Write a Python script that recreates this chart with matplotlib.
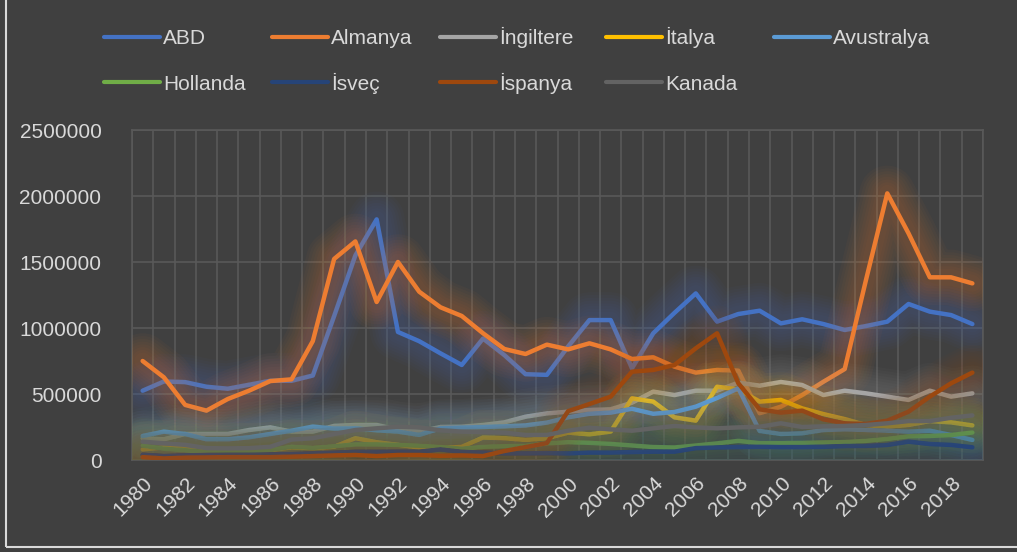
import numpy as np
import matplotlib
matplotlib.use("Agg")
import matplotlib.pyplot as plt
from matplotlib.lines import Line2D
from matplotlib.patches import Rectangle

# values in thousands, 1980-2019
years = list(range(1980, 2020))
tick_years = [str(y) for y in range(1980, 2020, 2)]

abd = [525, 595, 590, 555, 540, 570, 600, 600, 640, 1090, 1550, 1823, 970, 900, 808, 720,
       920, 795, 650, 645, 860, 1060, 1060, 695, 960, 1115, 1262, 1048, 1106, 1131, 1035,
       1066, 1030, 985, 1015, 1048, 1182, 1124, 1098, 1030]
almanya = [750, 626, 417, 374, 462, 525, 598, 611, 901, 1523, 1656, 1197, 1500, 1275, 1157,
           1091, 960, 841, 803, 874, 838, 884, 838, 765, 778, 707, 662, 682, 677, 354, 404,
           492, 593, 689, 1364, 2020, 1717, 1384, 1384, 1338]
ingiltere = [164, 157, 197, 197, 197, 227, 247, 215, 215, 258, 265, 265, 230, 215, 250, 252,
             265, 285, 328, 353, 366, 379, 384, 434, 518, 492, 525, 525, 586, 563, 591, 568,
             492, 525, 505, 480, 455, 525, 480, 505]
italya = [80, 95, 90, 75, 70, 70, 75, 95, 90, 100, 165, 135, 115, 95, 90, 100, 170, 165, 152,
          164, 207, 194, 215, 467, 442, 323, 298, 555, 535, 442, 455, 391, 348, 310, 265, 252,
          265, 295, 285, 262]
avustralya = [182, 215, 197, 157, 157, 172, 197, 222, 253, 238, 240, 225, 215, 190, 240, 245,
              250, 255, 262, 283, 323, 350, 359, 388, 350, 364, 404, 470, 543, 220, 197, 202,
              227, 232, 227, 222, 215, 222, 189, 152]
hollanda = [110, 85, 73, 60, 60, 62, 76, 101, 92, 104, 118, 118, 114, 108, 98, 85, 100, 104,
            108, 126, 135, 130, 122, 110, 98, 95, 110, 126, 145, 128, 128, 130, 133, 136, 145,
            160, 180, 182, 189, 208]
isvec = [40, 30, 35, 38, 40, 40, 42, 45, 50, 55, 62, 62, 63, 63, 80, 62, 56, 50, 50, 52, 50,
         56, 56, 60, 63, 63, 90, 95, 98, 100, 98, 98, 100, 106, 106, 114, 139, 121, 114, 96]
ispanya = [22, 12, 18, 20, 22, 22, 22, 25, 30, 35, 38, 30, 38, 38, 32, 35, 30, 68, 98, 128,
           370, 424, 480, 669, 682, 720, 846, 960, 581, 384, 359, 374, 308, 278, 273, 298,
           366, 480, 581, 662]
kanada = [139, 126, 115, 90, 88, 90, 100, 155, 165, 197, 227, 240, 252, 247, 225, 215, 212,
          207, 190, 190, 222, 245, 232, 222, 240, 258, 247, 240, 247, 252, 278, 250, 255, 258,
          265, 278, 295, 295, 320, 338]

names = ["ABD", "Almanya", "İngiltere", "İtalya", "Avustralya",
         "Hollanda", "İsveç", "İspanya", "Kanada"]
series = [abd, almanya, ingiltere, italya, avustralya, hollanda, isvec, ispanya, kanada]
colors = ["#4472C4", "#ED7D31", "#A5A5A5", "#FFC000", "#5B9BD5",
          "#70AD47", "#264478", "#9E480E", "#636363"]

bg = "#404040"
grid = "#595959"
txt = "#D9D9D9"
plt.rcParams["font.family"] = ["Liberation Sans", "DejaVu Sans"]

W, H = 1017, 552
fig = plt.figure(figsize=(W / 100, H / 100), dpi=100, facecolor=bg)
ax = fig.add_axes([132 / W, 1 - 460 / H, (983 - 132) / W, (460 - 130) / H])
ax.set_facecolor(bg)

x = np.arange(len(years))
for k, (vals, c) in enumerate(zip(series, colors)):
    y = np.array(vals) * 1000
    # soft glow round each line
    for lw in range(40, 8, -4):
        ax.plot(x, y, color=c, lw=lw, alpha=0.035, solid_joinstyle="round",
                solid_capstyle="round", zorder=2 + 2 * k)
    ax.plot(x, y, color=c, lw=3.2, solid_joinstyle="round",
            solid_capstyle="round", zorder=3 + 2 * k)

ax.set_xlim(-0.5, len(years) - 0.5)
ax.set_ylim(0, 2500000)
ax.set_yticks(range(0, 2500001, 500000))
ax.set_yticklabels([str(v) for v in range(0, 2500001, 500000)])
ax.set_xticks(x[::2])
ax.set_xticklabels(tick_years, rotation=45, ha="right", va="top", rotation_mode="anchor")
ax.set_xticks(np.arange(-0.5, len(years), 1), minor=True)
ax.tick_params(axis="both", which="both", length=0, colors=txt, labelsize=15)
ax.tick_params(axis="y", pad=22)
ax.tick_params(axis="x", pad=10)
ax.grid(axis="y", which="major", color=grid, lw=1.2, zorder=0)
ax.grid(axis="x", which="minor", color=grid, lw=1.2, zorder=0)
for s in ax.spines.values():
    s.set_color(grid)
    s.set_linewidth(1.2)

# legend, laid out like the Excel one
col_x = [104, 272, 440, 606, 774]
row_y = [37, 82]
for k, (name, c) in enumerate(zip(names, colors)):
    x0 = col_x[k % 5]
    y0 = 1 - row_y[k // 5] / H
    fig.add_artist(Line2D([x0 / W, (x0 + 56) / W], [y0, y0], color=c, lw=3,
                          solid_capstyle="round", transform=fig.transFigure))
    fig.text((x0 + 59) / W, y0 - 7.5 / H, name, color=txt, fontsize=15,
             va="baseline", ha="left")

# chart border (left and bottom visible)
fig.add_artist(Rectangle((6 / W, 5 / H), 1.1, 1.1, transform=fig.transFigure,
                         fill=False, edgecolor="#D9D9D9", lw=1.5))

fig.savefig("out.png", dpi=100, facecolor=bg)
